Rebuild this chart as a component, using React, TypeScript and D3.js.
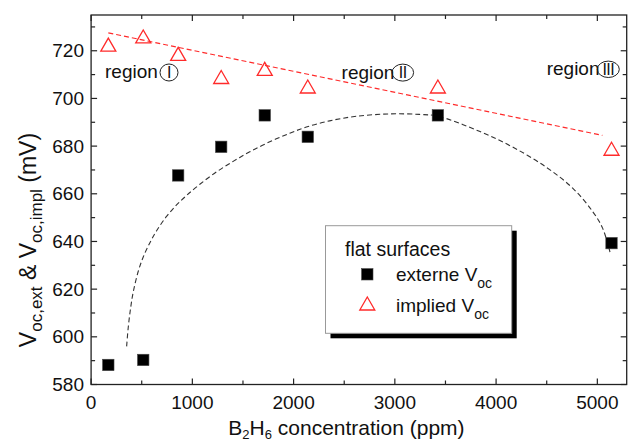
import React from 'react';
import * as d3 from 'd3';

// ---- data ----
const concentrations = [170, 515, 860, 1285, 1715, 2140, 3425, 5140];
const externeVoc = [588.2, 590.3, 667.7, 679.7, 692.9, 683.9, 692.9, 639.3];
const impliedVoc = [722.6, 726.0, 718.7, 709.0, 712.4, 705.0, 705.0, 678.9];

const impliedTrendX = [170, 5050];
const impliedTrendY = [727.5, 684.5];

const externeFitX = [351, 367, 390, 417, 466, 515, 581, 647, 745, 844, 943, 1074, 1239, 1403, 1567, 1764, 1962, 2126, 2356, 2619, 2948, 3243, 3430, 3835, 4164, 4493, 4756, 4953, 5052, 5125];
const externeFitY = [596, 604, 612, 619, 627.5, 633.5, 639.5, 644.5, 650.5, 655.3, 659.3, 664, 669.2, 673.6, 677.6, 681.8, 685.4, 688, 690.6, 692.5, 693.5, 693.3, 692.5, 686.2, 679.6, 671.2, 662.4, 652.6, 645.6, 635.5];

const xTicks = [0, 1000, 2000, 3000, 4000, 5000];
const xMinorTicks = [500, 1500, 2500, 3500, 4500];
const yTicks = [580, 600, 620, 640, 660, 680, 700, 720];
const yMinorTicks = [590, 610, 630, 650, 670, 690, 710, 730];

const regionNumerals = ['I', 'II', 'III'];
const legendTitle = 'flat surfaces';
const legendExterne = 'externe V';
const legendImplied = 'implied V';

// ---- layout ----
const W = 631;
const H = 442;
const L = 91.1, R = 626.7, T = 15, B = 384.5;
const RED = '#ff2a2a';
const FONT = 'Liberation Sans, Arial, Helvetica, sans-serif';

const regionLayout = [
  { x: 105, y: 77.5, cx: 169, cy: 72.5, rx: 9, ry: 8.5 },
  { x: 341.6, y: 78.5, cx: 402.8, cy: 72.6, rx: 10.8, ry: 8.5 },
  { x: 546.7, y: 75, cx: 608.3, cy: 69.3, rx: 11, ry: 8.2 },
];

export default function App() {
  const x = d3.scaleLinear().domain([0, 5290]).range([L, R]);
  const y = d3.scaleLinear().domain([580, 735]).range([B, T]);

  const fitLine = d3
    .line<number>()
    .x((_, i) => x(externeFitX[i]))
    .y((_, i) => y(externeFitY[i]))
    .curve(d3.curveCatmullRom.alpha(0.5));
  const trendLine = d3
    .line<number>()
    .x((_, i) => x(impliedTrendX[i]))
    .y((_, i) => y(impliedTrendY[i]));

  const sq = 11.4;
  const triPath = (cx: number, cy: number) => {
    const w = 15, h = 13;
    return `M${cx},${cy - h / 2}L${cx + w / 2},${cy + h / 2}L${cx - w / 2},${cy + h / 2}Z`;
  };

  const major = 6, minor = 4;

  return (
    <svg width={W} height={H} style={{ position: 'absolute', left: 0, top: 0, background: '#fff' }} fontFamily={FONT}>
      <rect x={0} y={0} width={W} height={H} fill="#fff" />

      {/* fit curves */}
      <path d={fitLine(externeFitX) || ''} fill="none" stroke="#333" strokeWidth={1.1} strokeDasharray="5,3" />
      <path d={trendLine(impliedTrendX) || ''} fill="none" stroke={RED} strokeWidth={1.2} strokeDasharray="5,3" />

      {/* markers */}
      {concentrations.map((c, i) => (
        <path key={'t' + i} d={triPath(x(c), y(impliedVoc[i]))} fill="none" stroke={RED} strokeWidth={1.3} />
      ))}
      {concentrations.map((c, i) => (
        <rect key={'s' + i} x={x(c) - sq / 2} y={y(externeVoc[i]) - sq / 2} width={sq} height={sq} fill="#000" stroke="#444" strokeWidth={0.6} />
      ))}

      {/* frame */}
      <rect x={L} y={T} width={R - L} height={B - T} fill="none" stroke="#222" strokeWidth={1.3} />

      {/* x ticks */}
      {xTicks.map((t) => (
        <g key={'xt' + t}>
          <line x1={x(t)} x2={x(t)} y1={B} y2={B - major} stroke="#222" strokeWidth={1.2} />
          <line x1={x(t)} x2={x(t)} y1={T} y2={T + major} stroke="#222" strokeWidth={1.2} />
          <text x={x(t)} y={408.6} textAnchor="middle" fontSize={19} fill="#111">{t}</text>
        </g>
      ))}
      {xMinorTicks.map((t) => (
        <g key={'xm' + t}>
          <line x1={x(t)} x2={x(t)} y1={B} y2={B - minor} stroke="#222" strokeWidth={1.2} />
          <line x1={x(t)} x2={x(t)} y1={T} y2={T + minor} stroke="#222" strokeWidth={1.2} />
        </g>
      ))}

      {/* y ticks */}
      {yTicks.map((t) => (
        <g key={'yt' + t}>
          <line x1={L} x2={L + major} y1={y(t)} y2={y(t)} stroke="#222" strokeWidth={1.2} />
          <line x1={R} x2={R - major} y1={y(t)} y2={y(t)} stroke="#222" strokeWidth={1.2} />
          <text x={84} y={y(t)} dy="0.35em" textAnchor="end" fontSize={19} fill="#111">{t}</text>
        </g>
      ))}
      {yMinorTicks.map((t) => (
        <g key={'ym' + t}>
          <line x1={L} x2={L + minor} y1={y(t)} y2={y(t)} stroke="#222" strokeWidth={1.2} />
          <line x1={R} x2={R - minor} y1={y(t)} y2={y(t)} stroke="#222" strokeWidth={1.2} />
        </g>
      ))}

      {/* axis titles */}
      <text x={228.3} y={435} fontSize={21} fill="#111">
        B<tspan fontSize={13} dy={4}>2</tspan>
        <tspan dy={-4}>H</tspan>
        <tspan fontSize={13} dy={4}>6</tspan>
        <tspan dy={-4}> concentration (ppm)</tspan>
      </text>
      <text transform="translate(36,240) rotate(-90)" textAnchor="middle" fontSize={23} fill="#111">
        V<tspan fontSize={17} dy={6}>oc,ext</tspan>
        <tspan dy={-6}> &amp; V</tspan>
        <tspan fontSize={17} dy={6}>oc,impl</tspan>
        <tspan dy={-6}> (mV)</tspan>
      </text>

      {/* region labels */}
      {regionNumerals.map((n, i) => {
        const r = regionLayout[i];
        return (
          <g key={'r' + n}>
            <text x={r.x} y={r.y} fontSize={19} fill="#111">region</text>
            <ellipse cx={r.cx} cy={r.cy} rx={r.rx} ry={r.ry} fill="none" stroke="#222" strokeWidth={1} />
            <text x={r.cx} y={r.cy} dy="0.36em" textAnchor="middle" fontSize={16} fill="#111" letterSpacing={-0.5}>{n}</text>
          </g>
        );
      })}

      {/* legend */}
      <rect x={330.5} y={230.7} width={186.2} height={107.6} fill="#000" />
      <rect x={325.5} y={225.7} width={186.2} height={107.6} fill="#fff" stroke="#999" strokeWidth={1} />
      <text x={345} y={256} fontSize={19.5} fill="#111">{legendTitle}</text>
      <rect x={367.3 - sq / 2} y={274.3 - sq / 2} width={sq} height={sq} fill="#000" stroke="#444" strokeWidth={0.6} />
      <text x={396} y={280.7} fontSize={19} fill="#111">
        {legendExterne}<tspan fontSize={14} dy={7}>oc</tspan>
      </text>
      <path d={triPath(367.3, 303.5)} fill="none" stroke={RED} strokeWidth={1.3} />
      <text x={396} y={311.7} fontSize={19} fill="#111">
        {legendImplied}<tspan fontSize={14} dy={7}>oc</tspan>
      </text>
    </svg>
  );
}
